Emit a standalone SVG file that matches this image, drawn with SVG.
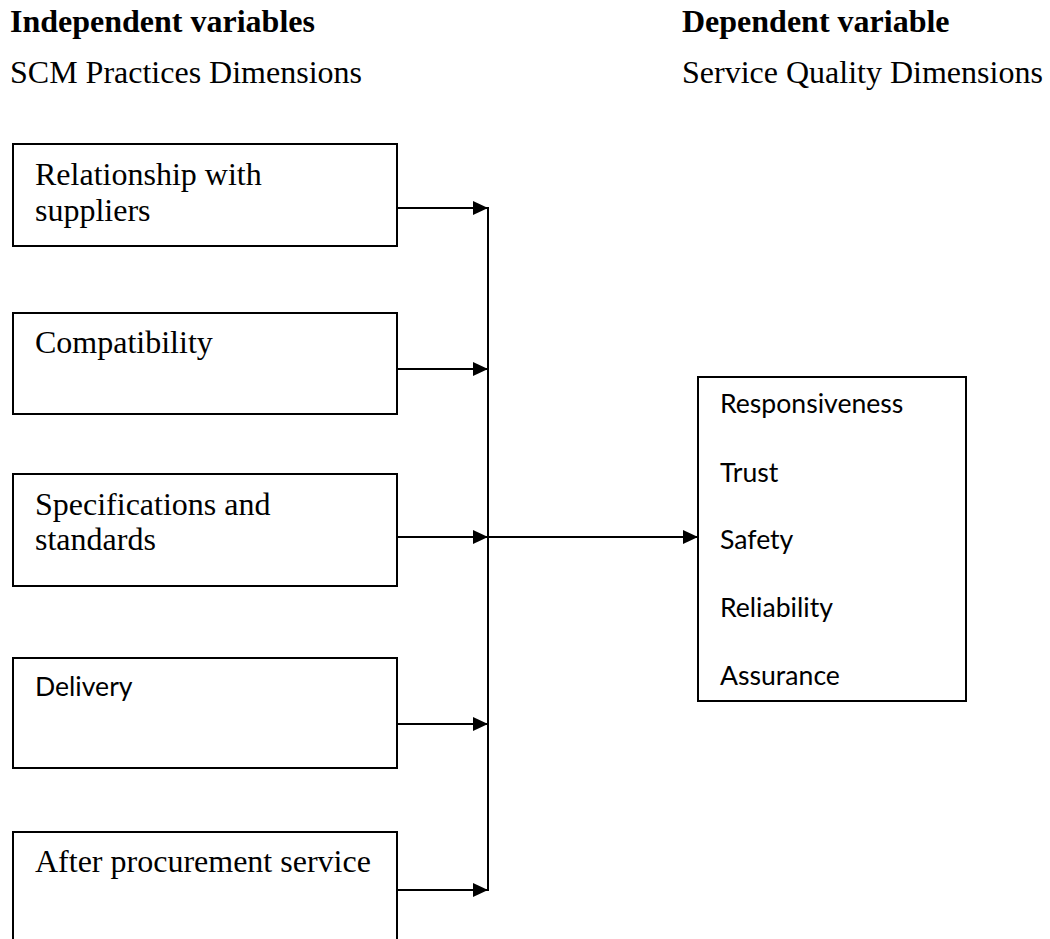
<svg xmlns="http://www.w3.org/2000/svg" width="1050" height="939" viewBox="0 0 1050 939">
<style>
.box{fill:#fff;stroke:#000;stroke-width:2}
.t{font-family:"Liberation Serif",serif;font-size:32px;fill:#000}
.b{font-weight:bold}
.c{font-family:Lato,"Liberation Sans",sans-serif;font-size:26.6px;fill:#000}
.ln{stroke:#000;stroke-width:2;fill:none}
</style>
<defs>
<marker id="ah" markerWidth="15" markerHeight="14" refX="15" refY="7" orient="auto" markerUnits="userSpaceOnUse" viewBox="0 0 15 14">
<path d="M0,0 L15,7 L0,14 Z" fill="#000"/>
</marker>
</defs>
<rect width="1050" height="939" fill="#fff"/>
<g id="headers">
<text class="t b" x="10" y="32">Independent variables</text>
<text class="t" x="10" y="83">SCM Practices Dimensions</text>
<text class="t b" x="682" y="32">Dependent variable</text>
<text class="t" x="682" y="83">Service Quality Dimensions</text>
</g>
<g id="n1"><rect class="box" x="13" y="144" width="384" height="102"/><text class="t" x="35" y="185">Relationship with</text><text class="t" x="35" y="221">suppliers</text></g>
<g id="n2"><rect class="box" x="13" y="313" width="384" height="101"/><text class="t" x="35" y="353">Compatibility</text></g>
<g id="n3"><rect class="box" x="13" y="474" width="384" height="112"/><text class="t" x="35" y="515">Specifications and</text><text class="t" x="35" y="550">standards</text></g>
<g id="n4"><rect class="box" x="13" y="658" width="384" height="110"/><text class="c" x="35" y="696">Delivery</text></g>
<g id="n5"><rect class="box" x="13" y="832" width="384" height="130"/><text class="t" x="35" y="872">After procurement service</text></g>
<g id="n6"><rect class="box" x="698" y="377" width="268" height="324"/>
<text class="c" x="720" y="413">Responsiveness</text>
<text class="c" x="720" y="482">Trust</text>
<text class="c" x="720" y="549">Safety</text>
<text class="c" x="720" y="617">Reliability</text>
<text class="c" x="720" y="685">Assurance</text>
</g>
<g id="connectors">
<line class="ln" x1="488" y1="207" x2="488" y2="891"/>
<line class="ln" x1="397" y1="208" x2="488" y2="208" marker-end="url(#ah)"/>
<line class="ln" x1="397" y1="369" x2="488" y2="369" marker-end="url(#ah)"/>
<line class="ln" x1="397" y1="537" x2="488" y2="537" marker-end="url(#ah)"/>
<line class="ln" x1="397" y1="724" x2="488" y2="724" marker-end="url(#ah)"/>
<line class="ln" x1="397" y1="890" x2="488" y2="890" marker-end="url(#ah)"/>
<line class="ln" x1="488" y1="537" x2="698" y2="537" marker-end="url(#ah)"/>
</g>
</svg>
